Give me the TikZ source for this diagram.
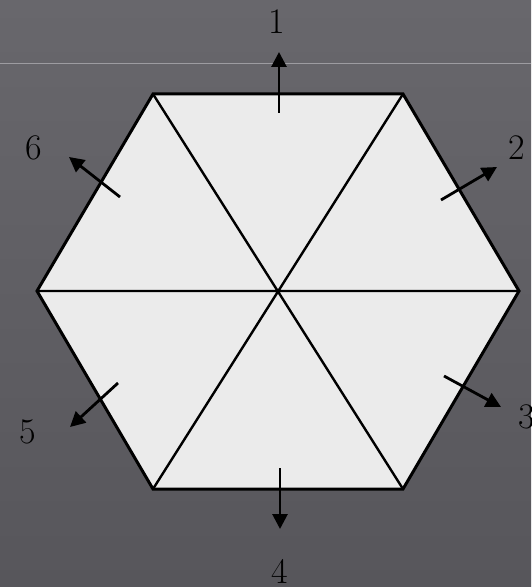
\documentclass[tikz,border=0pt]{standalone}
\usepackage{tikz}
\usetikzlibrary{arrows.meta}

\definecolor{fondoA}{HTML}{68676C}
\definecolor{fondoB}{HTML}{57565B}
\definecolor{relleno}{HTML}{EBEBEB}
\definecolor{raya}{HTML}{9D9CA1}

\begin{document}
\begin{tikzpicture}[x=0.5pt,y=-0.5pt,>={Triangle[length=7.5pt,width=7.5pt]},
    etiqueta/.style={inner sep=0pt,font=\fontsize{18}{20}\selectfont},
    flecha/.style={->,line width=1.4pt}]
    \useasboundingbox (0,0) rectangle (531,587);
    % Fondo con degradado suave y la raya clara de la parte superior.
    \shade[top color=fondoA,bottom color=fondoB] (0,0) rectangle (531,587);
    \draw[raya,line width=0.5pt] (0,64) -- (531,64);

    % Hexagono partido en seis triangulos desde el centro.
    \coordinate (A) at (153,94);
    \coordinate (B) at (403,94);
    \coordinate (C) at (519,291);
    \coordinate (D) at (403,489);
    \coordinate (E) at (153,489);
    \coordinate (F) at (37,291);
    \coordinate (O) at (278,291);
    \draw[line width=1.5pt,fill=relleno] (A) -- (B) -- (C) -- (D)
        -- (E) -- (F) -- cycle;
    \draw[line width=1.2pt] (A) -- (D) (B) -- (E) (F) -- (C);

    % Flechas hacia fuera, una por triangulo, con su numero.
    \coordinate (s1) at (279,113);
    \coordinate (t1) at (279,52);
    \node[etiqueta] (n1) at (277,22) {1};
    \draw[flecha] (s1) -- (t1);

    \coordinate (s2) at (441,200);
    \coordinate (t2) at (497,167);
    \node[etiqueta] (n2) at (517,148) {2};
    \draw[flecha] (s2) -- (t2);

    \coordinate (s3) at (444,376);
    \coordinate (t3) at (501,407);
    \node[etiqueta] (n3) at (527,417) {3};
    \draw[flecha] (s3) -- (t3);

    \coordinate (s4) at (280,468);
    \coordinate (t4) at (280,529);
    \node[etiqueta] (n4) at (280,571) {4};
    \draw[flecha] (s4) -- (t4);

    \coordinate (s5) at (118,383);
    \coordinate (t5) at (70,427);
    \node[etiqueta] (n5) at (28,432) {5};
    \draw[flecha] (s5) -- (t5);

    \coordinate (s6) at (120,197);
    \coordinate (t6) at (69,157);
    \node[etiqueta] (n6) at (34,148) {6};
    \draw[flecha] (s6) -- (t6);
\end{tikzpicture}
\end{document}
